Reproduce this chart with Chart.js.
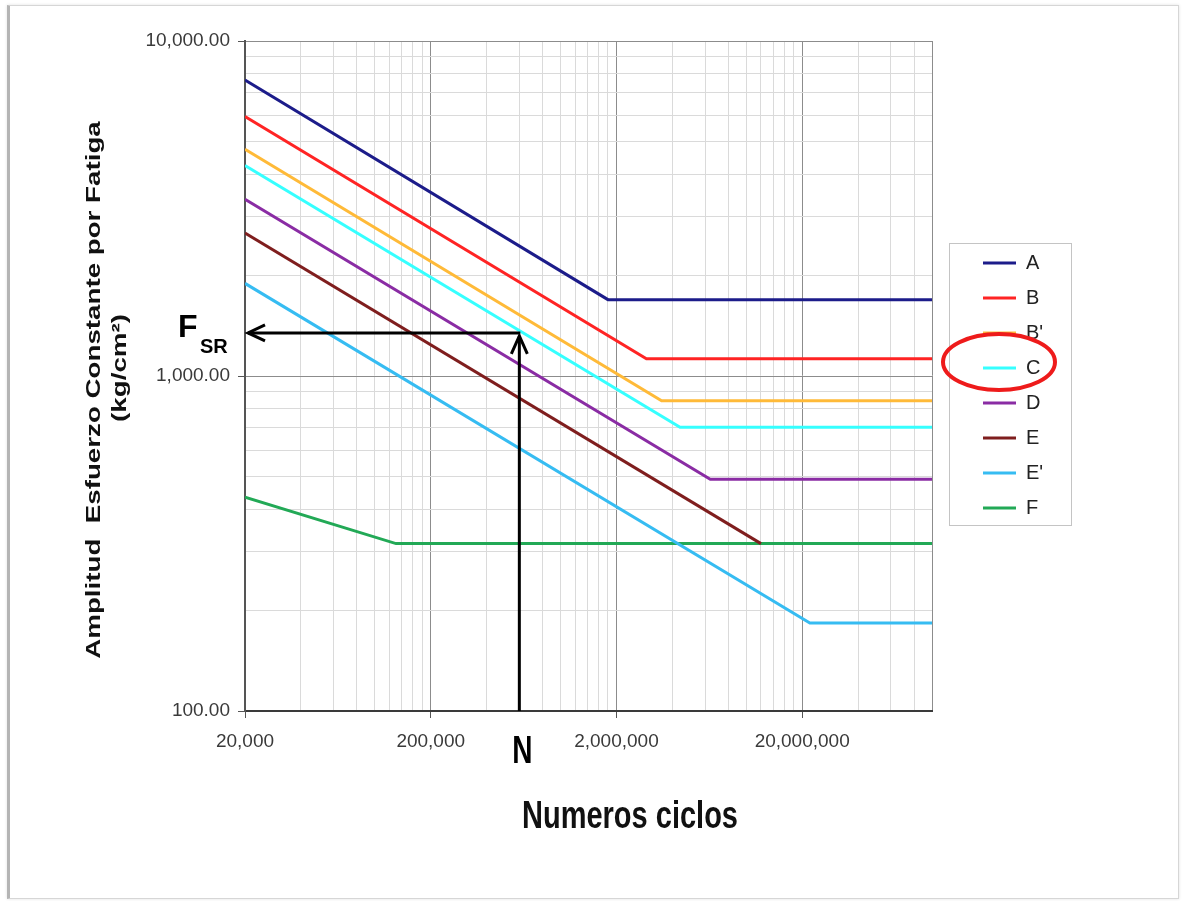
<!DOCTYPE html>
<html>
<head>
<meta charset="utf-8">
<title>Amplitud de esfuerzo vs numero de ciclos</title>
<script src="https://cdn.jsdelivr.net/npm/chart.js@4.4.0/dist/chart.umd.min.js"></script>
<style>
    html, body { margin: 0; padding: 0; background: #fff; }
    body { width: 1184px; height: 901px; position: relative; overflow: hidden; }
    .frame {
        position: absolute; left: 7px; top: 5px; width: 1168px; height: 892px;
        border: 1px solid #d6d6d6; border-left: 3px solid #b4b4b4;
        box-shadow: 0 0 3px rgba(0,0,0,0.12);
    }
    canvas { position: absolute; left: 0; top: 0; }
</style>
</head>
<body>
<div class="frame"></div>
<canvas id="fatigueChart" width="1184" height="901"></canvas>
<script>
// Detail categories, values (kg/cm2 vs cycles)
const categories = ['A', 'B', "B'", 'C', 'D', 'E', "E'", 'F'];
const startCycles = 20000;
const endCycles = 100000000;
const startStress = [7650, 5950, 4750, 4250, 3370, 2670, 1890, 435];
const kneeCycles = [1800000, 2900000, 3500000, 4400000, 6400000, 12000000, 22000000, 130000];
const thresholdStress = [1690, 1125, 844, 703, 492, 316, 183, 316];
// E stops where it meets F
const runsToEnd = [true, true, true, true, true, false, true, true];
const lineColors = ['#1c1c8a', '#ff2424', '#ffba38', '#36ffff', '#8a2ca4', '#7f1e1e', '#36bcf2', '#22a956'];

const xMajorTicks = [20000, 200000, 2000000, 20000000];
const yMajorTicks = [100, 1000, 10000];

// reading example drawn with arrows: N -> curve C -> F_SR
const nCycles = 600000;
const fsrStress = 1345;

const textFont = '"Liberation Sans", Arial, sans-serif';

// minor ticks at 2x..9x of every major, like the excel log axis
function logTicks(majors, max) {
    const ticks = [];
    majors.forEach(d => {
        for (let k = 1; k <= 9; k++) {
            const v = d * k;
            if (v <= max) ticks.push({ value: v, major: k === 1 });
        }
    });
    return ticks;
}

function gridColor(tick, max) {
    if (!tick) return '#dadada';
    return (tick.major || tick.value >= max) ? '#8c8c8c' : '#dadada';
}

const datasets = categories.map((name, i) => {
    const pts = [
        { x: startCycles, y: startStress[i] },
        { x: kneeCycles[i], y: thresholdStress[i] }
    ];
    if (runsToEnd[i]) pts.push({ x: endCycles, y: thresholdStress[i] });
    return {
        label: name,
        data: pts,
        borderColor: lineColors[i],
        backgroundColor: lineColors[i],
        borderWidth: 3,
        pointRadius: 0,
        tension: 0,
        fill: false
    };
});

function stretchText(ctx, text, x, y, sx, sy, rot) {
    ctx.save();
    ctx.translate(x, y);
    if (rot) ctx.rotate(rot);
    ctx.scale(sx, sy);
    ctx.fillText(text, 0, 0);
    ctx.restore();
}

// move the legend to where the reference has it
const legendShift = { x: 36, y: 197 };

const decorations = {
    id: 'decorations',
    afterLayout(chart) {
        const lg = chart.legend;
        lg.left += legendShift.x; lg.right += legendShift.x;
        lg.top += legendShift.y; lg.bottom += legendShift.y;
    },
    afterDatasetsDraw(chart) {
        const { ctx, chartArea } = chart;
        const px = chart.scales.x.getPixelForValue(nCycles);
        const py = chart.scales.y.getPixelForValue(fsrStress);
        ctx.save();
        ctx.strokeStyle = '#000';
        ctx.lineWidth = 3;
        // vertical arrow up from N
        ctx.beginPath();
        ctx.moveTo(px, chartArea.bottom);
        ctx.lineTo(px, py + 3);
        ctx.stroke();
        ctx.beginPath();
        ctx.moveTo(px - 8, py + 21);
        ctx.lineTo(px, py + 3);
        ctx.lineTo(px + 8, py + 21);
        ctx.stroke();
        // horizontal arrow to the axis
        ctx.beginPath();
        ctx.moveTo(px + 1, py);
        ctx.lineTo(chartArea.left + 3, py);
        ctx.stroke();
        ctx.beginPath();
        ctx.moveTo(chartArea.left + 20, py - 8);
        ctx.lineTo(chartArea.left + 3, py);
        ctx.lineTo(chartArea.left + 20, py + 8);
        ctx.stroke();
        ctx.restore();
    },
    afterDraw(chart) {
        const { ctx, chartArea } = chart;
        const px = chart.scales.x.getPixelForValue(nCycles);
        const py = chart.scales.y.getPixelForValue(fsrStress);
        ctx.save();
        ctx.fillStyle = '#000';
        ctx.textAlign = 'left';
        ctx.textBaseline = 'alphabetic';

        // F_SR label
        ctx.font = 'bold 32px ' + textFont;
        ctx.fillText('F', chartArea.left - 67, py + 4);
        ctx.font = 'bold 20px ' + textFont;
        ctx.fillText('SR', chartArea.left - 45, py + 20);

        // N label
        ctx.textAlign = 'center';
        ctx.font = 'bold 28px ' + textFont;
        stretchText(ctx, 'N', px + 3, chartArea.bottom + 52, 1, 1.4);

        // axis titles
        ctx.fillStyle = '#111';
        ctx.font = 'bold 29px ' + textFont;
        stretchText(ctx, 'Numeros ciclos', 630, 828, 1, 1.35);

        ctx.textBaseline = 'middle';
        ctx.font = 'bold 21px ' + textFont;
        stretchText(ctx, 'Amplitud  Esfuerzo Constante por Fatiga', 94, 390, 1.32, 1, -Math.PI / 2);
        stretchText(ctx, '(kg/cm\u00B2)', 120, 368, 1.32, 1, -Math.PI / 2);

        // legend frame
        const hb = chart.legend.legendHitBoxes;
        const first = hb[0];
        const last = hb[hb.length - 1];
        ctx.strokeStyle = '#c4c4c4';
        ctx.lineWidth = 1;
        ctx.strokeRect(first.left - 33.5, first.top - 9.5, 122, last.top + last.height + 17 - first.top);

        // red ring around category C
        const c = hb[3];
        ctx.strokeStyle = '#ee1b1b';
        ctx.lineWidth = 4;
        ctx.beginPath();
        ctx.ellipse(c.left + 16, c.top + c.height / 2 - 6, 56, 28, 0, 0, Math.PI * 2);
        ctx.stroke();
        ctx.restore();
    }
};

new Chart(document.getElementById('fatigueChart'), {
    type: 'line',
    data: { datasets: datasets },
    plugins: [decorations],
    options: {
        responsive: false,
        animation: false,
        devicePixelRatio: 1,
        layout: { padding: { left: 125, top: 41, right: 172, bottom: 20 } },
        plugins: {
            tooltip: { enabled: false },
            legend: {
                position: 'right',
                align: 'start',
                maxWidth: 80,
                labels: {
                    usePointStyle: true,
                    pointStyle: 'line',
                    pointStyleWidth: 33,
                    padding: 15,
                    color: '#222',
                    font: { family: textFont, size: 20 }
                }
            }
        },
        scales: {
            x: {
                type: 'logarithmic',
                min: startCycles,
                max: endCycles,
                afterBuildTicks: s => { s.ticks = logTicks(xMajorTicks, endCycles); },
                afterFit: s => { s.height = 170; },
                ticks: {
                    autoSkip: false,
                    maxRotation: 0,
                    padding: 12,
                    color: '#3a3a3a',
                    font: { family: textFont, size: 19 },
                    callback: (v, i, t) => t[i].major ? Number(v).toLocaleString('en-US') : ''
                },
                grid: {
                    color: ctx => gridColor(ctx.tick, endCycles),
                    lineWidth: 1,
                    tickLength: 7,
                    tickColor: ctx => (ctx.tick && ctx.tick.major) ? '#555' : 'rgba(0,0,0,0)'
                },
                border: { color: '#3a3a3a', width: 2 }
            },
            y: {
                type: 'logarithmic',
                min: 100,
                max: 10000,
                afterBuildTicks: s => { s.ticks = logTicks(yMajorTicks, 10000); },
                afterFit: s => { s.width = 120; },
                ticks: {
                    autoSkip: false,
                    padding: 8,
                    color: '#3a3a3a',
                    font: { family: textFont, size: 19 },
                    callback: (v, i, t) => t[i].major
                        ? Number(v).toLocaleString('en-US', { minimumFractionDigits: 2, maximumFractionDigits: 2 })
                        : ''
                },
                grid: {
                    color: ctx => gridColor(ctx.tick, 10000),
                    lineWidth: 1,
                    tickLength: 7,
                    tickColor: ctx => (ctx.tick && ctx.tick.major) ? '#555' : 'rgba(0,0,0,0)'
                },
                border: { color: '#555', width: 2 }
            }
        }
    }
});
</script>
</body>
</html>
